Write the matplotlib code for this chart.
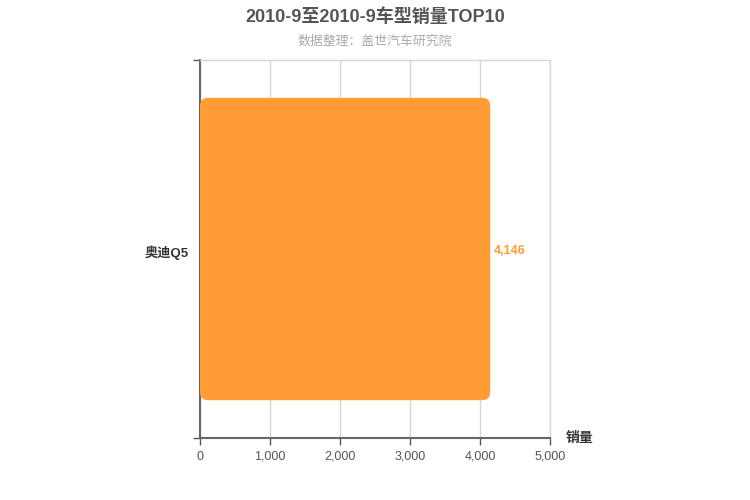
import matplotlib
matplotlib.use("Agg")
import matplotlib.pyplot as plt
from matplotlib.patches import FancyBboxPatch
from matplotlib.ticker import FuncFormatter

plt.rcParams['font.family'] = ['Liberation Sans', 'Noto Sans CJK SC', 'DejaVu Sans']

title = "2010-9至2010-9车型销量TOP10"
subtitle = "数据整理：盖世汽车研究院"
categories = ["奥迪Q5"]
values = [4146]
xticks = [0, 1000, 2000, 3000, 4000, 5000]
xlabel = "销量"

bar_color = "#FF9C35"

fig = plt.figure(figsize=(7.5, 5), dpi=100)
ax = fig.add_axes([200/750, 1-438/500, 350/750, 378/500])

ax.set_xlim(0, 5000)
ax.set_ylim(-0.5, len(categories) - 0.5)

bars = ax.barh(range(len(categories)), values, height=0.8, color=bar_color)
x_per_px = 5000 / 350
y_per_px = 1 / 378
for b in bars:
    x0, y0 = b.get_x(), b.get_y()
    w, h = b.get_width(), b.get_height()
    b.set_visible(False)
    p = FancyBboxPatch((x0, y0), w, h,
                       boxstyle=f"round,pad=0,rounding_size={8*x_per_px}",
                       mutation_aspect=y_per_px / x_per_px,
                       facecolor=bar_color, edgecolor='none', zorder=3)
    ax.add_patch(p)

for i, v in enumerate(values):
    ax.text(v + 4 * x_per_px, i - 2 * y_per_px, f"{v:,}", color=bar_color, fontsize=9,
            fontweight='bold', va='center', ha='left')

ax.set_xticks(xticks)
ax.xaxis.set_major_formatter(FuncFormatter(lambda x, p: f"{int(x):,}"))
ax.set_yticks([-0.5, 0.5], minor=False)
ax.set_yticklabels([])
ax.set_yticks([c - 2 * y_per_px for c in range(len(categories))], minor=True)
ax.set_yticklabels(categories, minor=True, fontweight='bold')
ax.tick_params(axis='y', which='minor', length=0, pad=8, labelsize=9.5, labelcolor='#333333')
ax.tick_params(axis='y', which='major', length=5, width=1, color='#555555')
ax.tick_params(axis='x', length=5, width=1, color='#555555', labelsize=9, labelcolor='#555555', pad=4)

ax.grid(axis='x', color='#d6d6d6', linewidth=1, zorder=0)
ax.set_axisbelow(True)
for s in ['top', 'right']:
    ax.spines[s].set_color('#d6d6d6')
    ax.spines[s].set_linewidth(1)
for s in ['left', 'bottom']:
    ax.spines[s].set_color('#666666')
    ax.spines[s].set_linewidth(1.5)

fig.text(580/750, 1-438/500, xlabel, fontsize=10, fontweight='bold', color='#333333',
         ha='center', va='center')

fig.text(0.5, 1-17/500, title, fontsize=13, fontweight='bold', color='#555555',
         ha='center', va='center')
fig.text(0.5, 1-41/500, subtitle, fontsize=9.3, color='#aaaaaa', ha='center', va='center')

fig.savefig("out.png", dpi=100, facecolor='white')
